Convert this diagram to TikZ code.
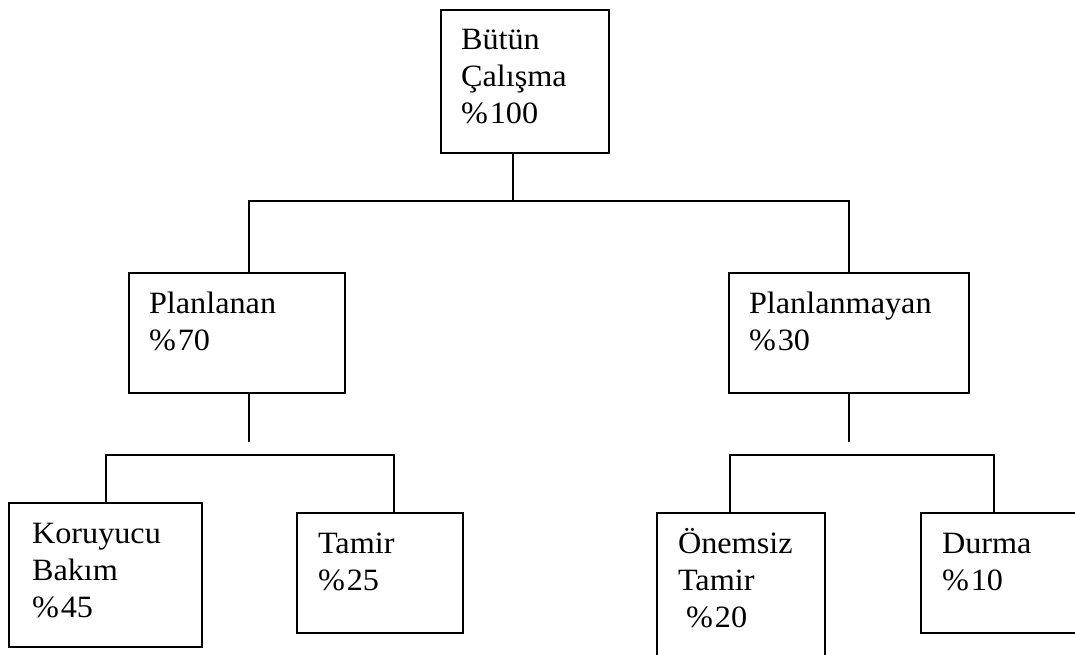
\documentclass[tikz,border=0pt]{standalone}
\usepackage{fontspec}
\setmainfont[FakeStretch=1.04]{Liberation Serif}
\begin{document}
\begin{tikzpicture}[x=1pt,y=-1pt,
  box/.style={draw=black, line width=1.6pt, inner sep=0pt, outer sep=0pt,
    anchor=north west, fill=white},
  txt/.style={anchor=base west, inner sep=0pt, outer sep=0pt,
    font=\fontsize{31}{37}\selectfont},
  link/.style={draw=black, line width=1.6pt}]
  \useasboundingbox (0,0) rectangle (1075,655);
  \clip (0,0) rectangle (1075,655);

  % boxes
  \node[box, minimum width=168pt, minimum height=143pt] (top)    at (441,10)  {};
  \node[box, minimum width=216pt, minimum height=120pt] (plan)   at (129,273) {};
  \node[box, minimum width=240pt, minimum height=120pt] (unplan) at (729,273) {};
  \node[box, minimum width=193pt, minimum height=144pt] (kor)    at (9,503)   {};
  \node[box, minimum width=166pt, minimum height=120pt] (tam)    at (297,513) {};
  \node[box, minimum width=168pt, minimum height=160pt] (onem)   at (657,513) {};
  \node[box, minimum width=170pt, minimum height=120pt] (dur)    at (921,513) {};

  % labels
  \newcommand{\boxtext}[1]{\parbox[t]{300pt}{\raggedright #1}}
  \newcommand{\pct}[1]{\%\kern2pt#1}
  \node[txt] (ttop)    at ([shift={(20,40)}]top.north west)    {\boxtext{Bütün\\Çalışma\\\pct{100}}};
  \node[txt] (tplan)   at ([shift={(20,40)}]plan.north west)   {\boxtext{Planlanan\\\pct{70}}};
  \node[txt] (tunplan) at ([shift={(20,40)}]unplan.north west) {\boxtext{Planlanmayan\\\pct{30}}};
  \node[txt] (tkor)    at ([shift={(23,40)}]kor.north west)    {\boxtext{Koruyucu\\Bakım\\\pct{45}}};
  \node[txt] (ttam)    at ([shift={(21,40)}]tam.north west)    {\boxtext{Tamir\\\pct{25}}};
  \node[txt] (tonem)   at ([shift={(21,40)}]onem.north west)   {\boxtext{Önemsiz\\Tamir\\~\pct{20}}};
  \node[txt] (tdur)    at ([shift={(21,40)}]dur.north west)    {\boxtext{Durma\\\pct{10}}};

  % junction points
  \coordinate (j0) at (513,201);
  \coordinate (jl) at (249,201);
  \coordinate (jr) at (849,201);
  \coordinate (sl) at (249,442);
  \coordinate (sr) at (849,442);
  \coordinate (ll) at (106,455);
  \coordinate (lr) at (394,455);
  \coordinate (rl) at (730,455);
  \coordinate (rr) at (994,455);

  % connectors
  \draw[link] (j0 |- top.south) -- (j0);
  \draw[link] (jl |- plan.north) -- (jl) -- (jr) -- (jr |- unplan.north);
  \draw[link] (sl |- plan.south) -- (sl);
  \draw[link] (sr |- unplan.south) -- (sr);
  \draw[link] (ll |- kor.north) -- (ll) -- (lr) -- (lr |- tam.north);
  \draw[link] (rl |- onem.north) -- (rl) -- (rr) -- (rr |- dur.north);
\end{tikzpicture}
\end{document}
